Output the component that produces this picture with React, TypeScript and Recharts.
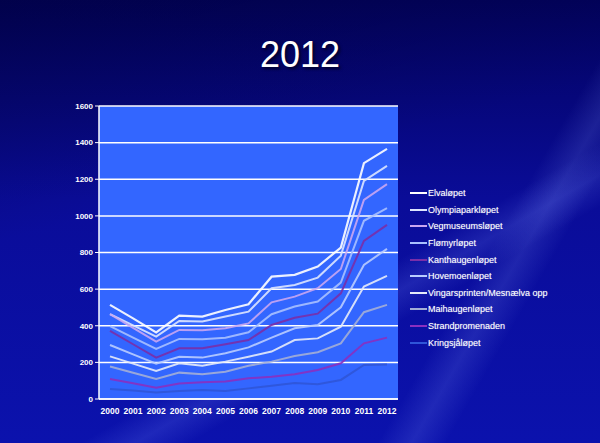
import { CartesianGrid, Line, LineChart, XAxis, YAxis } from 'recharts';

const YEARS = ['2000', '2001', '2002', '2003', '2004', '2005', '2006', '2007', '2008', '2009', '2010', '2011', '2012'];

const ELVALOPET = [514, 440, 364, 455, 450, 486, 517, 668, 678, 723, 827, 1288, 1366];
const OLYMPIAPARKLOPET = [463, 402, 341, 426, 423, 450, 477, 605, 623, 663, 783, 1191, 1273];
const VEGMUSEUMSLOPET = [463, 388, 313, 377, 375, 386, 413, 528, 559, 605, 710, 1087, 1173];
const FLOMYRLOPET = [398, 335, 273, 328, 326, 335, 364, 463, 505, 532, 636, 973, 1042];
const KANTHAUGENLOPET = [372, 299, 226, 277, 277, 299, 322, 404, 444, 466, 577, 863, 951];
const HOVEMOENLOPET = [295, 244, 193, 231, 226, 250, 282, 335, 386, 404, 501, 732, 820];
const VINGARSPRINTEN = [233, 193, 153, 195, 182, 204, 231, 259, 322, 331, 395, 614, 672];
const MAIHAUGENLOPET = [177, 143, 109, 144, 135, 149, 182, 204, 235, 255, 304, 474, 514];
const STRANDPROMENADEN = [109, 86, 62, 84, 91, 95, 113, 122, 135, 158, 195, 304, 335];
const KRINGSJALOPET = [55, 46, 36, 44, 49, 44, 58, 72, 88, 80, 104, 186, 189];

const Y_TICKS = [0, 200, 400, 600, 800, 1000, 1200, 1400, 1600];

const SERIES = [
  { key: 'Elvaløpet', values: ELVALOPET, color: '#ffffff', width: 2.2 },
  { key: 'Olympiaparkløpet', values: OLYMPIAPARKLOPET, color: '#dde6ff', width: 2 },
  { key: 'Vegmuseumsløpet', values: VEGMUSEUMSLOPET, color: '#c9a6f2', width: 2 },
  { key: 'Flømyrløpet', values: FLOMYRLOPET, color: '#a9c0ff', width: 2 },
  { key: 'Kanthaugenløpet', values: KANTHAUGENLOPET, color: '#7a2ea8', width: 2 },
  { key: 'Hovemoenløpet', values: HOVEMOENLOPET, color: '#b9ccff', width: 2 },
  { key: 'Vingarsprinten/Mesnælva opp', values: VINGARSPRINTEN, color: '#e6ebfa', width: 2 },
  { key: 'Maihaugenløpet', values: MAIHAUGENLOPET, color: '#a3aed6', width: 2 },
  { key: 'Strandpromenaden', values: STRANDPROMENADEN, color: '#8a2fc0', width: 2 },
  { key: 'Kringsjåløpet', values: KRINGSJALOPET, color: '#2f55d8', width: 2 },
];

const data = YEARS.map((year, i) => {
  const row: Record<string, string | number> = { year };
  SERIES.forEach((s) => {
    row[s.key] = s.values[i];
  });
  return row;
});

const FONT = '"Liberation Sans", Arial, sans-serif';

function LegendList() {
  return (
    <div
      style={{
        position: 'absolute',
        left: 410,
        top: 185,
        fontFamily: FONT,
        fontSize: 9,
        color: '#ffffff',
        textShadow: '0 0 1px rgba(255,255,255,0.5)',
      }}
    >
      {SERIES.map((s) => (
        <div key={s.key} style={{ display: 'flex', alignItems: 'center', height: 16.6, whiteSpace: 'nowrap' }}>
          <span style={{ display: 'inline-block', width: 17, height: 2, background: s.color, marginRight: 1 }} />
          <span>{s.key}</span>
        </div>
      ))}
    </div>
  );
}

export default function App() {
  return (
    <div
      style={{
        position: 'fixed',
        left: 0,
        top: 0,
        width: 600,
        height: 443,
        overflow: 'hidden',
        background:
          'linear-gradient(150deg, rgba(255,255,255,0) 62%, rgba(120,140,255,0.18) 66%, rgba(255,255,255,0) 70%), ' +
          'linear-gradient(120deg, rgba(255,255,255,0) 74%, rgba(140,160,255,0.16) 78%, rgba(255,255,255,0) 82%), ' +
          'linear-gradient(165deg, rgba(0,0,40,0.35) 0%, rgba(0,0,40,0) 40%), ' +
          'linear-gradient(180deg, #02025e 0%, #0a0c98 45%, #0b12ad 100%)',
      }}
    >
      <div
        style={{
          position: 'absolute',
          top: 34,
          width: 600,
          textAlign: 'center',
          fontFamily: FONT,
          fontSize: 36,
          color: '#ffffff',
          textShadow: '2px 2px 3px rgba(0,0,0,0.6)',
        }}
      >
        2012
      </div>
      <div style={{ position: 'absolute', left: 0, top: 0 }}>
        <LineChart width={600} height={443} data={data} margin={{ top: 106, right: 202, bottom: 14, left: 39 }}>
          <CartesianGrid vertical={false} stroke="#ffffff" strokeWidth={1.5} fill="#3366ff" fillOpacity={1} />
          <XAxis
            dataKey="year"
            height={30}
            padding={{ left: 11, right: 11 }}
            axisLine={{ stroke: '#ffffff', strokeWidth: 1.5 }}
            tickLine={false}
            interval={0}
            tick={{ fill: '#ffffff', fontSize: 8.5, fontFamily: FONT, fontWeight: 'bold' }}
            tickMargin={3}
          />
          <YAxis
            width={60}
            domain={[0, 1600]}
            ticks={Y_TICKS}
            interval={0}
            axisLine={{ stroke: '#ffffff', strokeWidth: 1.5 }}
            tickLine={{ stroke: '#ffffff' }}
            tickSize={4}
            tick={{ fill: '#ffffff', fontSize: 8, fontFamily: FONT, fontWeight: 'bold' }}
          />
          {SERIES.map((s) => (
            <Line
              key={s.key}
              type="linear"
              dataKey={s.key}
              stroke={s.color}
              strokeWidth={s.width}
              strokeOpacity={0.9}
              dot={false}
              activeDot={false}
              isAnimationActive={false}
            />
          ))}
        </LineChart>
      </div>
      <LegendList />
    </div>
  );
}
